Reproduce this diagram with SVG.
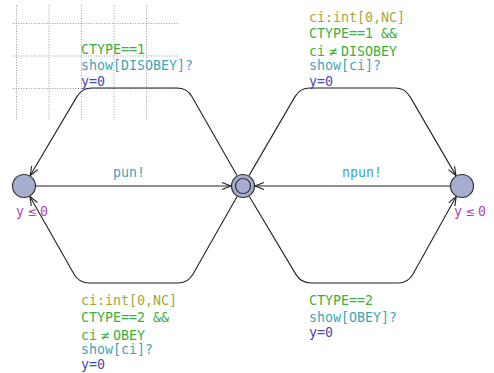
<svg xmlns="http://www.w3.org/2000/svg" width="494" height="373" viewBox="0 0 494 373">
<style>
.grid{stroke:#9a9a9a;stroke-width:1;stroke-dasharray:1 1.6;fill:none}
.loc{fill:#a6adcf;stroke:#333;stroke-width:1.2}
.edge{fill:none;stroke:#222;stroke-width:1.1;marker-end:url(#arr)}
text{font-family:"DejaVu Sans Mono","Liberation Mono",monospace;font-size:13.3px}
.sel{fill:#a6a63c}
.grd{fill:#3eae3e}
.syn{fill:#3fa5b3}
.upd{fill:#4747b2}
.inv{fill:#b044b6}
</style>
<defs>
<marker id="arr" markerWidth="12" markerHeight="12" refX="10" refY="6" orient="auto" markerUnits="userSpaceOnUse">
<path d="M1,2.5 L10,6 L1,9.5" fill="none" stroke="#222" stroke-width="1.1"/>
</marker>
</defs>
<g id="grid">
<path class="grid" d="M16.5,5V120M49,5V120M81.5,5V120M114,5V120M146.5,5V120M13,23.5H178M13,56H178M13,88.5H178"/>
</g>
<g id="connectors">
<path class="edge" d="M237,175.6 L192,96.7 Q187,88 177,88 L92,88 Q82,88 76.9,96.6 L30.1,175.7"/>
<path class="edge" d="M237.1,196.4 L192.9,274.3 Q188,283 178,283 L89,283 Q79,283 74.1,274.3 L29.9,196.4"/>
<path class="edge" d="M249,175.6 L295,96.6 Q300,88 310,88 L395,88 Q405,88 410,96.6 L456,175.6"/>
<path class="edge" d="M249.2,196.3 L295.9,274.4 Q301,283 311,283 L398,283 Q408,283 412.9,274.3 L456.2,196.5"/>
<path class="edge" d="M36,186 H231"/>
<path class="edge" d="M450,186 H255"/>
</g>
<g id="labels">
<text class="grd" x="81" y="54">CTYPE==1</text>
<text class="syn" x="81" y="70">show[DISOBEY]?</text>
<text class="upd" x="81" y="86">y=0</text>
<text class="sel" x="309" y="22">ci:int[0,NC]</text>
<text class="grd" x="309" y="38">CTYPE==1 &amp;&amp;</text>
<text class="grd" x="309" y="56">ci<tspan dx="4">≠</tspan><tspan dx="4">DISOBEY</tspan></text>
<text class="syn" x="309" y="70">show[ci]?</text>
<text class="upd" x="309" y="86">y=0</text>
<text class="syn" x="113" y="177">pun!</text>
<text class="syn" x="342" y="177">npun!</text>
<text class="sel" x="81" y="305">ci:int[0,NC]</text>
<text class="grd" x="81" y="322">CTYPE==2 &amp;&amp;</text>
<text class="grd" x="81" y="340">ci<tspan dx="4">≠</tspan><tspan dx="4">OBEY</tspan></text>
<text class="syn" x="81" y="354">show[ci]?</text>
<text class="upd" x="81" y="369">y=0</text>
<text class="grd" x="309" y="305">CTYPE==2</text>
<text class="syn" x="309" y="322">show[OBEY]?</text>
<text class="upd" x="309" y="337">y=0</text>
</g>
<g id="left">
<circle class="loc" cx="24" cy="186" r="11.5"/>
<text class="inv" x="16" y="216">y<tspan dx="4">≤</tspan><tspan dx="4">0</tspan></text>
</g>
<g id="center">
<circle class="loc" cx="243" cy="186" r="11.5"/>
<circle class="loc" cx="243" cy="186" r="7.5"/>
</g>
<g id="right">
<circle class="loc" cx="462" cy="186" r="11.5"/>
<text class="inv" x="454" y="216">y<tspan dx="4">≤</tspan><tspan dx="4">0</tspan></text>
</g>
</svg>
